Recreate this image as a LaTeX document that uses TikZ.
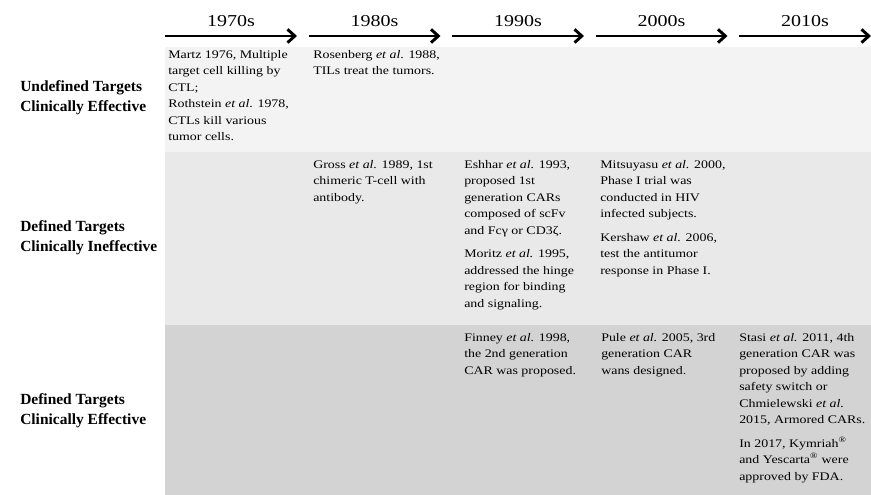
\documentclass[tikz,border=0pt]{standalone}
\usepackage{fontspec}
\setmainfont{Liberation Serif}
\newfontfamily\bodyfont{Liberation Serif}[FakeStretch=1.2]
\usepackage{tikz}
\usetikzlibrary{positioning}
\usetikzlibrary{arrows.meta}
\definecolor{bandA}{HTML}{F3F3F3}
\definecolor{bandB}{HTML}{E9E9E9}
\definecolor{bandC}{HTML}{D3D3D3}
\tikzset{
  entry/.style={anchor=north west, inner sep=0pt, align=left, font=\bodyfont\fontsize{8.7}{12.4}\selectfont},
  rowlabel/.style={anchor=west, inner sep=0pt, align=left, font=\bfseries\fontsize{11.6}{15}\selectfont},
  decade/.style={inner sep=0pt, font=\bodyfont\fontsize{12.5}{15}\selectfont},
}

\begin{document}
\begin{tikzpicture}[x=0.75pt,y=-0.75pt]
     \useasboundingbox (0,0) rectangle (871,495);
     \fill[bandA] (165,47) rectangle (871,152);
     \fill[bandB] (165,152) rectangle (871,325);
     \fill[bandC] (165,325) rectangle (871,495);
     \foreach \d [count=\i from 0] in {1970,1980,1990,2000,2010} {
       \coordinate (s\d) at (165+143.5*\i,36);
       \coordinate (e\d) at (297+143.5*\i,36);
       \draw[line width=2.2pt,-{Straight Barb[length=5.5pt,width=10pt]}] (s\d) -- (e\d);
       \path (s\d) -- (e\d) node[decade,midway,above=6.5pt] (y\d) {\d s};
     }
     \node[rowlabel] (undef) at (20,98) {Undefined Targets\\Clinically Effective};
     \node[rowlabel] (defin) at (20,238) {Defined Targets\\Clinically Ineffective};
     \node[rowlabel] (defeff) at (20,411) {Defined Targets\\Clinically Effective};
     % undefined targets, effective
     \node[entry] (martz) at (168,50) {Martz 1976, Multiple\\target cell killing by\\CTL;\\Rothstein \textit{et al}. 1978,\\CTLs kill various\\tumor cells.};
     \node[entry] (rosen) at (313,50) {Rosenberg \textit{et al}. 1988,\\TILs treat the tumors.};
     % defined targets, ineffective
     \node[entry] (gross) at (313,160) {Gross \textit{et al.} 1989, 1st\\chimeric T-cell with\\antibody.};
     \node[entry] (eshhar) at (464,160) {Eshhar \textit{et al.} 1993,\\proposed 1st\\generation CARs\\composed of scFv\\and Fcγ or CD3ζ.\\[5pt]Moritz \textit{et al.} 1995,\\addressed the hinge\\region for binding\\and signaling.};
     \node[entry] (mitsu) at (600,160) {Mitsuyasu \textit{et al.} 2000,\\Phase I trial was\\conducted in HIV\\infected subjects.\\[5pt]Kershaw \textit{et al.} 2006,\\test the antitumor\\response in Phase I.};
     % defined targets, effective
     \node[entry] (finney) at (464,333) {Finney \textit{et al.} 1998,\\the 2nd generation\\CAR was proposed.};
     \node[entry] (pule) at (601,333) {Pule \textit{et al.} 2005, 3rd\\generation CAR\\wans designed.};
     \node[entry] (stasi) at (739,333) {Stasi \textit{et al.} 2011, 4th\\generation CAR was\\proposed by adding\\safety switch or\\Chmielewski \textit{et al.}\\2015, Armored CARs.\\[5pt]In 2017, Kymriah\textsuperscript{®}\\and Yescarta\textsuperscript{®} were\\approved by FDA.};
\end{tikzpicture}
\end{document}
